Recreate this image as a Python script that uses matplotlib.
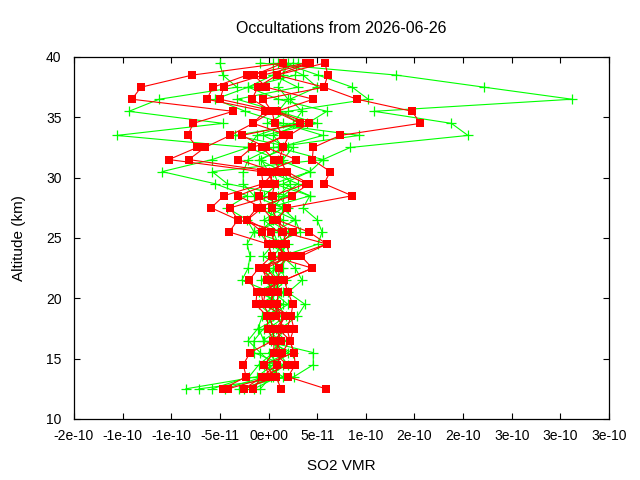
import numpy as np
import matplotlib
matplotlib.use("Agg")
import matplotlib.pyplot as plt

plt.rcParams['font.family'] = ['Liberation Sans', 'DejaVu Sans']

# altitude grid (km) shared by all profiles
alt = np.arange(12.5, 40.0, 1.0)

# SO2 VMR profiles, values in units of 5e-12
unit = 5e-12
red_a = [11.8, 4.0, 5.5, 5.2, 4.4, 5.2, 4.6, 5.0, 4.0, 3.2, 9.0, 6.7, 12.0, 8.3,
         1.7, 3.8, 17.2, 11.4, 12.7, 9.0, 9.2, 14.7, 31.2, 29.5, 18.2, 11.4, 12.2, 11.6]
red_b = [-9.4, -4.6, -5.2, -3.8, 0.9, -0.1, -0.3, -2.6, -2.4, -4.0, -2.0, 0.7, -0.1, -8.1,
         -6.3, -11.8, -9.2, -1.1, -1.5, -20.5, -14.7, -16.6, -15.5, -7.3, -28.1, -26.2, -15.7, 3.0]
red_c = [-8.3, 0.3, -0.9, 1.1, 2.6, 1.5, 3.4, 0.5, 0.9, -0.3, -1.3, 2.8, 2.4, 5.0,
         0.9, -1.3, -6.3, 0.3, 0.9, -16.4, -13.1, -7.9, -3.2, -0.7, -12.7, -11.4, -4.4, 7.7]
red_d = [-5.0, 1.5, 1.7, 2.8, 1.1, 3.4, 1.5, 1.7, 2.0, 1.7, -0.5, 4.4, 3.6, 3.0,
         1.7, 0.7, 0.9, 7.7, 2.4, 1.1, -1.3, 3.0, 1.3, 0.7, -3.4, -2.2, 1.7, 8.5]
red_e = [-3.2, -1.3, 3.8, 1.1, 1.1, 0.9, 0.3, -1.1, -0.7, 2.0, 2.2, 3.8, 1.3, 0.5,
         -4.4, -2.4, 4.8, 8.3, 3.8, 2.2, 3.0, 4.2, 8.3, 1.7, 9.2, -0.5, -3.0, 3.0]
red_f = [2.6, 1.5, -0.9, 5.2, 4.4, 3.8, 4.6, 0.3, 1.1, 1.3, -2.0, 5.0, 12.0, 2.8,
         -6.3, -7.9, 0.7, 1.3, -0.5, 5.7, -0.5, -5.5, 6.5, 1.3, -10.0, -9.2, -1.1, 8.5]
red_g = [-5.0, -1.3, 1.7, 2.8, 4.4, 2.0, 3.4, -1.1, -1.5, 3.2, 9.0, 0.7, -0.1, -1.3,
         -4.4, -1.3, -2.0, -1.1, 1.3, -6.3, -3.4, 4.2, -3.2, 0.7, -1.1, 11.4, 1.7, 11.6]

green_a = [-17.0, -2.4, 1.0, -1.7, -4.2, -2.2, -1.3, 1.5, 0.5, -5.5, -4.2, -3.8, -4.4, -3.0,
           -4.4, -8.5, -4.4, -11.0, -21.9, -11.6, -4.2, -31.2, -9.4, -28.7, -22.5, -6.5, -9.4, -10.0]
green_b = [-14.3, 5.2, 9.2, 9.2, -1.1, 2.5, 5.9, 7.5, 4.0, 6.9, 5.5, 2.8, 10.2, 11.0,
           10.0, 7.1, 8.5, 3.0, 8.5, 11.2, 16.8, 41.0, 37.6, 21.7, 62.4, 44.3, 26.3, -1.7]
green_c = [-11.6, -4.0, -2.0, 1.0, 2.0, 0.0, 3.5, 2.0, -1.0, 1.5, 3.0, -1.1, 1.0, 6.5,
           5.5, 2.8, -3.0, -5.2, -5.2, -4.2, 0.9, 18.6, -0.3, 4.0, 20.5, 17.2, 10.2, 3.0]
green_d = [-1.7, 0.5, 3.0, -3.0, -3.0, -1.0, 1.0, -2.0, 2.5, 0.5, -1.0, 2.0, 4.0, -3.0,
           3.0, -2.0, 4.0, -8.5, -11.6, 11.2, 2.0, 11.2, 3.0, -4.8, -11.0, -4.2, 5.5, 6.0]
green_e = [-9.0, -1.0, 4.0, 2.0, 1.5, 3.0, 2.0, 0.0, 1.0, 3.5, 2.5, 4.0, 2.0, 1.0,
           5.5, 0.0, 8.5, 1.0, 8.5, 2.0, -4.2, -2.4, 5.0, 6.9, 4.4, 10.0, 7.1, 2.0]
green_f = [-6.0, 3.0, -1.0, 4.0, 0.5, 1.5, -0.5, 3.0, -2.0, 2.0, 0.0, 1.0, 3.0, 2.0,
           -1.0, 3.0, -1.0, 2.0, 1.0, 3.0, 5.0, -6.9, 8.0, 12.0, 2.0, -4.2, 0.9, 5.0]
green_g = [-3.0, 2.0, 0.0, 5.0, -1.0, -2.0, 2.5, 1.0, 3.0, -1.5, 1.5, 4.5, 0.0, -2.0,
           1.0, 4.0, 2.0, 4.5, 3.0, -2.0, 4.0, -1.1, 10.0, 2.0, -6.5, 6.0, 1.0, 1.0]
green_h = [-5.0, 1.0, 2.0, 0.0, 3.5, 1.0, 0.0, 4.0, 1.0, 2.5, 1.0, 3.0, 2.5, 4.0,
           0.0, 1.0, 3.0, 6.0, 0.0, -1.5, 3.0, 1.0, 6.5, 2.0, 4.0, 2.0, 3.0, 4.0]

red_profiles = [red_a, red_b, red_c, red_d, red_e, red_f, red_g]
green_profiles = [green_a, green_b, green_c, green_d, green_e, green_f, green_g, green_h]

xticks = np.arange(-2e-10, 3.51e-10, 5e-11)
xticklabels = ["-2e-10", "-1e-10", "-1e-10", "-5e-11", "0e+00", "5e-11",
               "1e-10", "2e-10", "2e-10", "3e-10", "3e-10", "3e-10"]
yticks = [10, 15, 20, 25, 30, 35, 40]

fig = plt.figure(figsize=(6.4, 4.8), dpi=100)
ax = fig.add_axes([74/640, 61/480, 535/640, 362/480])

for p in green_profiles:
    ax.plot(np.array(p) * unit, alt, color='#00ff00', lw=0.8,
            marker='+', ms=7, mew=0.9)
for p in red_profiles:
    ax.plot(np.array(p) * unit, alt, color='#ff0000', lw=0.8,
            marker='s', ms=6.3, mew=0)

ax.set_xlim(-2e-10, 3.5e-10)
ax.set_ylim(10, 40)
ax.set_xticks(xticks)
ax.set_xticklabels(xticklabels)
ax.set_yticks(yticks)
ax.tick_params(direction='in', top=True, right=True, length=4, width=0.8,
               labelsize=10)
ax.tick_params(axis='x', pad=7)
ax.tick_params(axis='y', pad=9)
for s in ax.spines.values():
    s.set_linewidth(0.9)

ax.set_title("Occultations from 2026-06-26", fontsize=11.5, pad=17)
ax.set_xlabel("SO2 VMR", fontsize=11, labelpad=12)
ax.set_ylabel("Altitude (km)", fontsize=11, labelpad=14)

fig.savefig("out.png", dpi=100)
